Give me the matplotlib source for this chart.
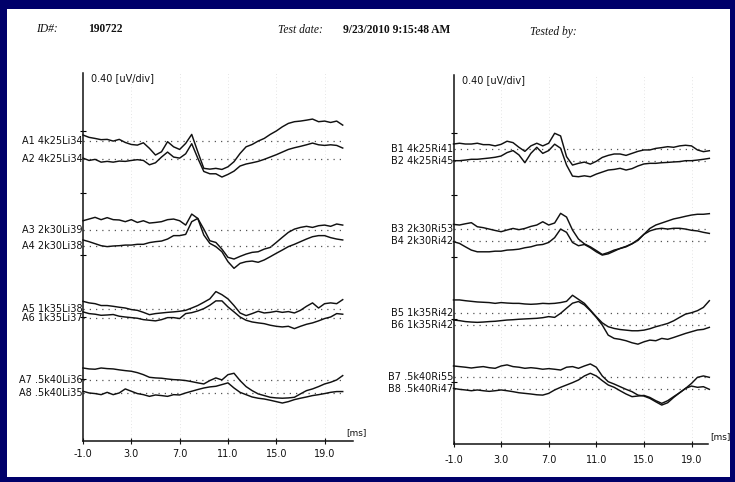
import matplotlib
matplotlib.use("Agg")
import matplotlib.pyplot as plt
from matplotlib.patches import Rectangle

W, H = 735, 482

# sampling times of the traces (ms)
time_ms = [-1.0, -0.5, 0.0, 0.5, 1.0, 1.5, 2.0, 2.5, 3.0, 3.5, 4.0, 4.5, 5.0, 5.5,
           6.0, 6.5, 7.0, 7.5, 8.0, 8.5, 9.0, 9.5, 10.0, 10.5, 11.0, 11.5, 12.0,
           12.5, 13.0, 13.5, 14.0, 14.5, 15.0, 15.5, 16.0, 16.5, 17.0, 17.5, 18.0,
           18.5, 19.0, 19.5, 20.0, 20.5]
tick_ms = [-1, 3, 7, 11, 15, 19]
tick_labels = ["-1.0", "3.0", "7.0", "11.0", "15.0", "19.0"]

left_names = ["A1 4k25Li34", "A2 4k25Li34", "A3 2k30Li39", "A4 2k30Li38",
              "A5 1k35Li38", "A6 1k35Li37", "A7 .5k40Li36", "A8 .5k40Li35"]
right_names = ["B1 4k25Ri41", "B2 4k25Ri45", "B3 2k30Ri53", "B4 2k30Ri42",
               "B5 1k35Ri42", "B6 1k35Ri42", "B7 .5k40Ri55", "B8 .5k40Ri47"]

# amplitudes in uV relative to each trace baseline
A1 = [0.039, 0.024, 0.017, 0.009, 0.011, 0.000, 0.011, -0.009, -0.022, -0.026, -0.011, -0.047, -0.090, -0.069, -0.004, -0.037, -0.054, -0.015, 0.043, -0.069, -0.176, -0.181, -0.176, -0.183, -0.166, -0.133, -0.080, -0.037, -0.022, 0.000, 0.017, 0.043, 0.065, 0.092, 0.114, 0.125, 0.129, 0.135, 0.142, 0.125, 0.129, 0.120, 0.129, 0.103]
A2 = [0.004, -0.011, -0.004, -0.022, -0.017, -0.022, -0.015, -0.017, -0.011, -0.006, -0.011, -0.039, -0.026, 0.011, 0.043, 0.011, 0.004, 0.032, 0.097, 0.004, -0.082, -0.097, -0.097, -0.118, -0.101, -0.080, -0.047, -0.034, -0.026, -0.017, -0.004, 0.011, 0.026, 0.043, 0.060, 0.071, 0.080, 0.090, 0.101, 0.090, 0.086, 0.090, 0.086, 0.069]
A3 = [0.060, 0.071, 0.082, 0.067, 0.080, 0.067, 0.065, 0.054, 0.067, 0.049, 0.060, 0.045, 0.049, 0.054, 0.067, 0.071, 0.060, 0.032, 0.103, 0.075, 0.006, -0.069, -0.080, -0.123, -0.176, -0.187, -0.170, -0.155, -0.144, -0.140, -0.123, -0.112, -0.080, -0.047, -0.015, 0.006, 0.017, 0.024, 0.017, 0.028, 0.032, 0.024, 0.039, 0.032]
A4 = [0.039, 0.028, 0.015, 0.002, -0.004, 0.000, 0.002, 0.006, 0.006, 0.011, 0.011, 0.022, 0.028, 0.032, 0.045, 0.067, 0.067, 0.075, 0.157, 0.178, 0.071, 0.017, -0.004, -0.037, -0.101, -0.144, -0.112, -0.101, -0.097, -0.105, -0.090, -0.069, -0.047, -0.026, -0.004, 0.011, 0.028, 0.045, 0.060, 0.067, 0.067, 0.054, 0.045, 0.039]
A5 = [0.049, 0.039, 0.034, 0.022, 0.022, 0.017, 0.011, 0.006, -0.004, -0.009, -0.022, -0.037, -0.030, -0.026, -0.022, -0.019, -0.015, -0.009, 0.006, 0.022, 0.043, 0.065, 0.112, 0.092, 0.065, 0.022, -0.026, -0.043, -0.030, -0.015, -0.026, -0.022, -0.015, -0.022, -0.017, -0.026, -0.009, 0.017, 0.039, 0.006, 0.034, 0.039, 0.034, 0.060]
A6 = [0.039, 0.028, 0.024, 0.017, 0.019, 0.022, 0.011, 0.006, 0.002, -0.002, -0.011, -0.015, -0.019, -0.011, 0.002, 0.002, -0.004, 0.028, 0.034, 0.045, 0.060, 0.082, 0.110, 0.110, 0.071, 0.039, 0.006, -0.015, -0.026, -0.032, -0.037, -0.047, -0.054, -0.058, -0.054, -0.069, -0.054, -0.041, -0.032, -0.019, -0.004, 0.006, 0.028, 0.024]
A7 = [0.077, 0.071, 0.069, 0.077, 0.073, 0.071, 0.065, 0.060, 0.056, 0.047, 0.034, 0.017, 0.013, 0.011, 0.006, 0.002, 0.000, -0.004, -0.011, -0.019, -0.026, -0.004, 0.013, 0.000, 0.034, 0.043, -0.004, -0.043, -0.069, -0.090, -0.101, -0.112, -0.116, -0.118, -0.116, -0.112, -0.090, -0.069, -0.058, -0.043, -0.026, -0.015, 0.000, 0.028]
A8 = [0.011, 0.000, -0.004, -0.011, 0.004, -0.011, 0.000, 0.026, 0.011, -0.004, -0.011, -0.022, -0.013, -0.017, -0.022, -0.011, -0.013, 0.000, 0.011, 0.022, 0.032, 0.039, 0.043, 0.054, 0.065, 0.032, 0.004, -0.011, -0.026, -0.034, -0.039, -0.047, -0.056, -0.065, -0.056, -0.043, -0.034, -0.026, -0.017, -0.011, -0.004, 0.004, 0.009, 0.009]

B1 = [0.034, 0.039, 0.034, 0.034, 0.039, 0.030, 0.030, 0.022, 0.032, 0.052, 0.043, 0.013, -0.013, 0.022, 0.039, 0.022, 0.039, 0.103, 0.086, -0.047, -0.101, -0.090, -0.082, -0.095, -0.077, -0.052, -0.039, -0.030, -0.030, -0.039, -0.026, -0.013, -0.004, -0.004, 0.006, 0.011, 0.017, 0.013, 0.022, 0.026, 0.022, -0.004, -0.015, -0.009]
B2 = [0.002, 0.002, 0.006, 0.011, 0.011, 0.015, 0.019, 0.024, 0.032, 0.054, 0.067, 0.039, -0.011, 0.049, 0.088, 0.049, 0.067, 0.108, 0.082, -0.026, -0.097, -0.101, -0.095, -0.101, -0.084, -0.071, -0.058, -0.054, -0.047, -0.058, -0.049, -0.032, -0.019, -0.015, -0.015, -0.011, -0.009, -0.006, -0.004, 0.002, 0.002, 0.006, 0.011, 0.017]
B3 = [0.030, 0.026, 0.034, 0.041, 0.015, 0.009, 0.000, -0.009, -0.017, -0.006, 0.004, -0.004, 0.004, 0.017, 0.026, 0.047, 0.026, 0.039, 0.101, 0.077, -0.006, -0.064, -0.095, -0.114, -0.138, -0.163, -0.151, -0.135, -0.125, -0.114, -0.095, -0.073, -0.034, 0.004, 0.026, 0.039, 0.052, 0.065, 0.073, 0.082, 0.090, 0.095, 0.095, 0.099]
B4 = [-0.004, -0.015, -0.037, -0.058, -0.069, -0.069, -0.069, -0.065, -0.065, -0.058, -0.056, -0.052, -0.043, -0.037, -0.026, -0.022, -0.009, 0.022, 0.077, 0.056, -0.009, -0.030, -0.022, -0.043, -0.069, -0.090, -0.082, -0.065, -0.047, -0.034, -0.017, 0.009, 0.043, 0.065, 0.077, 0.082, 0.077, 0.082, 0.082, 0.077, 0.069, 0.065, 0.056, 0.049]
B5 = [0.082, 0.082, 0.077, 0.073, 0.069, 0.067, 0.065, 0.060, 0.065, 0.062, 0.060, 0.060, 0.056, 0.054, 0.056, 0.060, 0.058, 0.060, 0.065, 0.073, 0.112, 0.086, 0.060, 0.017, -0.026, -0.065, -0.090, -0.101, -0.108, -0.112, -0.116, -0.116, -0.112, -0.103, -0.090, -0.080, -0.069, -0.052, -0.030, -0.009, 0.000, 0.013, 0.034, 0.077]
B6 = [0.032, 0.028, 0.022, 0.019, 0.017, 0.019, 0.022, 0.024, 0.028, 0.032, 0.034, 0.037, 0.039, 0.041, 0.043, 0.047, 0.054, 0.049, 0.075, 0.108, 0.140, 0.151, 0.129, 0.092, 0.049, 0.000, -0.065, -0.086, -0.092, -0.101, -0.114, -0.123, -0.108, -0.097, -0.101, -0.086, -0.092, -0.080, -0.067, -0.054, -0.043, -0.032, -0.028, -0.015]
B7 = [0.073, 0.069, 0.065, 0.060, 0.065, 0.069, 0.062, 0.058, 0.073, 0.080, 0.069, 0.065, 0.058, 0.062, 0.058, 0.052, 0.056, 0.052, 0.047, 0.065, 0.069, 0.058, 0.073, 0.086, 0.065, 0.009, -0.028, -0.043, -0.060, -0.077, -0.092, -0.114, -0.120, -0.135, -0.157, -0.178, -0.163, -0.129, -0.099, -0.071, -0.039, 0.000, 0.009, 0.000]
B8 = [0.004, -0.002, -0.006, -0.011, -0.006, -0.011, -0.015, -0.011, -0.006, -0.011, -0.017, -0.024, -0.028, -0.032, -0.037, -0.039, -0.028, -0.006, 0.011, 0.026, 0.041, 0.058, 0.084, 0.101, 0.084, 0.054, 0.026, 0.011, -0.011, -0.032, -0.049, -0.045, -0.041, -0.054, -0.075, -0.092, -0.075, -0.049, -0.024, 0.004, 0.019, 0.011, 0.015, -0.002]

# layout: where each trace baseline sits on the panel (uV from the x axis)
left_offsets = [1.935, 1.821, 1.361, 1.258, 0.852, 0.794, 0.394, 0.310]
right_offsets = [1.892, 1.817, 1.380, 1.303, 0.843, 0.764, 0.428, 0.353]

NAVY = "#00006a"
INK = "#111111"

fig = plt.figure(figsize=(W / 100, H / 100), dpi=100, facecolor=NAVY)
fig.patches.append(Rectangle((7 / W, 1 - 477 / H), (730 - 7) / W, (477 - 9) / H,
                             transform=fig.transFigure, facecolor="white",
                             edgecolor="none", zorder=-10))


def fx(x):
    return x / W


def fy(y):
    return 1 - y / H


# header
hdr = dict(family="Liberation Serif", fontsize=8.3, va="center", color="#111111")
fig.text(fx(36), fy(29), "ID#:", style="italic", **hdr)
fig.text(fx(88), fy(29), "190722", weight="bold", **hdr)
fig.text(fx(278), fy(30), "Test date:", style="italic", **hdr)
fig.text(fx(343), fy(30), "9/23/2010 9:15:48 AM", weight="bold", **hdr)
fig.text(fx(530), fy(32), "Tested by:", style="italic", **hdr)


def draw_panel(x0, y_axis, y_top, x1, px_ms, px_uv, names, waves, offsets, ms_xy, pad):
    ax = fig.add_axes([fx(x0), fy(y_axis), (x1 - x0) / W, (y_axis - y_top) / H])
    ax.patch.set_alpha(0)
    ax.set_xlim(-1, -1 + (x1 - x0) / px_ms)
    ax.set_ylim(0, (y_axis - y_top) / px_uv)
    for t in tick_ms[1:]:
        ax.plot([t, t], [0, (y_axis - y_top) / px_uv], color="#dcdcdc", lw=0.6,
                ls=(0, (1, 3)), zorder=0)
    for name, w, off in zip(names, waves, offsets):
        ax.plot([-1, 20.5], [off, off], color="#555555", lw=0.9, ls=(0, (1, 4)),
                clip_on=False)
        ax.plot(time_ms, [off + v for v in w], color=INK, lw=1.05, clip_on=False)
        ax.annotate(name, xy=(0, off), xycoords=("axes fraction", "data"),
                    xytext=(-0.3, 0), textcoords="offset points", ha="right",
                    va="center", fontsize=7, color=INK)
    for s in ["top", "right"]:
        ax.spines[s].set_visible(False)
    for s in ["left", "bottom"]:
        ax.spines[s].set_linewidth(1.1)
        ax.spines[s].set_color(INK)
    ax.set_xticks(tick_ms)
    ax.set_xticklabels(tick_labels)
    ax.set_yticks([0.4, 0.8, 1.2, 1.6, 2.0])
    ax.set_yticklabels([])
    ax.tick_params(axis="x", direction="inout", length=4, width=0.8, pad=pad,
                   labelsize=7, colors=INK)
    ax.tick_params(axis="y", direction="inout", length=5, width=0.8)
    ax.annotate("0.40 [uV/div]", xy=(0, 1), xycoords="axes fraction",
                xytext=(6, -4), textcoords="offset points", ha="left",
                va="center", fontsize=7, color=INK)
    fig.text(fx(ms_xy[0]), fy(ms_xy[1]), "[ms]", ha="center", va="center",
             fontsize=6.5, color=INK)
    return ax


draw_panel(83, 441, 73, 353, 12.08, 155.0, left_names,
           [A1, A2, A3, A4, A5, A6, A7, A8], left_offsets, (356, 433), 4)
draw_panel(453.5, 444, 75, 708, 11.9, 155.75, right_names,
           [B1, B2, B3, B4, B5, B6, B7, B8], right_offsets, (720, 437), 6)

fig.savefig("out.png", dpi=100, facecolor=NAVY)
